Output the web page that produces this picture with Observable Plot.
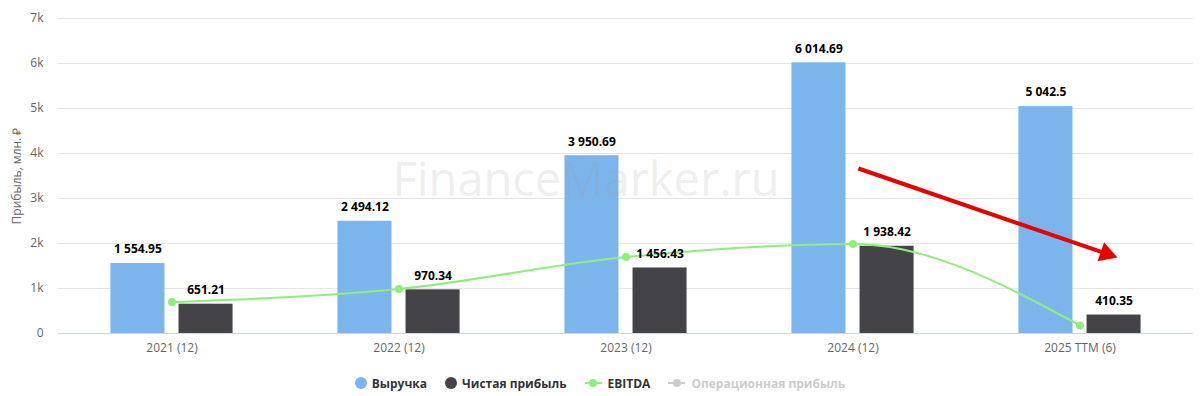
<!DOCTYPE html>
<html><head><meta charset="utf-8">
<script src="https://cdn.jsdelivr.net/npm/d3@7"></script>
<script src="https://cdn.jsdelivr.net/npm/@observablehq/plot@0.6"></script>
<style>
body{margin:0;background:#fff;font-family:"Open Sans",sans-serif;}
#chart svg{display:block;}
#legend{height:34px;width:1200px;display:flex;justify-content:center;align-items:center;font-weight:bold;font-size:12px;color:#333;}
.item{display:flex;align-items:center;margin:0 9px;}
.dot{width:12px;height:12px;border-radius:50%;margin-right:5px;}
.ln{position:relative;width:17px;height:2px;margin-right:6px;}
.ln i{position:absolute;left:4.5px;top:-3px;width:8px;height:8px;border-radius:50%;}
</style></head><body><div id="chart"></div>
<div id="legend"></div>
<script>
const categories = ["2021 (12)", "2022 (12)", "2023 (12)", "2024 (12)", "2025 TTM (6)"];
const revenue = [1554.95, 2494.12, 3950.69, 6014.69, 5042.5];
const netProfit = [651.21, 970.34, 1456.43, 1938.42, 410.35];
const ebitda = [700, 990, 1700, 1990, 180];
const yTicks = [0, 1000, 2000, 3000, 4000, 5000, 6000, 7000];
const seriesNames = ["Выручка", "Чистая прибыль", "EBITDA", "Операционная прибыль"];
const seriesColors = ["#7cb5ec", "#434348", "#90ed7d", "#cccccc"];
const arrowNote = [{x1: 3.024, y1: 3667, x2: 4.116, y2: 1773}];

const rows = categories.map((c, i) => ({i, c, revenue: revenue[i], net: netProfit[i], ebitda: ebitda[i]}));
const fmt = d3.formatLocale({decimal: ".", thousands: " ", grouping: [3], currency: ["", ""]}).format(",~f");
const B0 = 0.269, B1 = 0.031;

const plot = Plot.plot({
  width: 1200, height: 366,
  marginLeft: 58, marginRight: 7, marginTop: 18, marginBottom: 33,
  style: {fontFamily: '"Open Sans", sans-serif', fontSize: "12px", color: "#666", background: "#fff"},
  x: {domain: [-0.5, 4.5]},
  y: {domain: [0, 7000]},
  marks: [
    Plot.gridY(yTicks, {stroke: "#e6e6e6", strokeOpacity: 1}),
    Plot.axisY(yTicks, {tickSize: 0, tickPadding: 15, tickFormat: d => d === 0 ? "0" : d / 1000 + "k",
      fill: "#666", fontSize: 12, label: "Прибыль, млн. ₽", labelAnchor: "center", labelArrow: "none", labelOffset: 46}),
    Plot.axisX(d3.range(categories.length), {tickSize: 0, tickPadding: 10, tickFormat: i => categories[i], fill: "#666", fontSize: 12, label: null}),
    Plot.ruleY([0], {stroke: "#ccd6eb"}),
    Plot.rectY(rows, {x1: d => d.i - B0, x2: d => d.i - B1, y: "revenue", fill: seriesColors[0]}),
    Plot.rectY(rows, {x1: d => d.i + B1, x2: d => d.i + B0, y: "net", fill: seriesColors[1]}),
    Plot.line(rows, {x: "i", y: "ebitda", stroke: seriesColors[2], strokeWidth: 2, curve: "monotone-x"}),
    Plot.dot(rows, {x: "i", y: "ebitda", r: 4, fill: seriesColors[2]}),
    Plot.text(rows, {x: d => d.i - (B0 + B1) / 2, y: "revenue", text: d => fmt(d.revenue), dy: -14, fontWeight: "bold", fontSize: 12, fill: "#000"}),
    Plot.text(rows, {x: d => d.i + (B0 + B1) / 2, y: "net", text: d => fmt(d.net), dy: -14, fontWeight: "bold", fontSize: 12, fill: "#000"}),
    Plot.text(["FinanceMarker.ru"], {frameAnchor: "middle", dx: -40, dy: 5, fontSize: 47, fill: "#999", fillOpacity: 0.18}),
    Plot.link(arrowNote, {x1: "x1", y1: "y1", x2: "x2", y2: "y2", stroke: "#e60000", strokeWidth: 4}),
    Plot.dot(arrowNote, {x: "x2", y: "y2", symbol: "triangle", r: 7.5, fill: "#e60000", rotate: 109})
  ]
});
document.getElementById("chart").append(plot);

const lg = document.getElementById("legend");
seriesNames.forEach((n, k) => {
  const it = document.createElement("div");
  it.className = "item";
  if (k < 2) {
    it.innerHTML = `<span class="dot" style="background:${seriesColors[k]}"></span><span>${n}</span>`;
  } else {
    it.innerHTML = `<span class="ln" style="background:${seriesColors[k]}"><i style="background:${seriesColors[k]}"></i></span><span style="color:${k === 3 ? "#cccccc" : "#333"}">${n}</span>`;
  }
  lg.append(it);
});
</script>
</body></html>
